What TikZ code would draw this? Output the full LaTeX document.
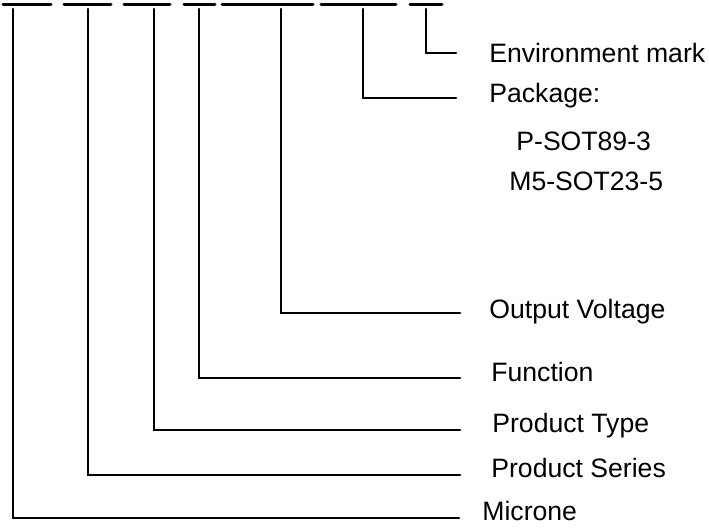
\documentclass[tikz,border=0pt]{standalone}
\usepackage{fontspec}
\setmainfont{Liberation Sans}
\usetikzlibrary{positioning}

\tikzset{
  digit/.style={line width=1.5pt, line cap=round},
  lead/.style={line width=1.3pt, line cap=round, line join=miter},
  lbl/.style={anchor=base west, inner sep=0pt, font=\fontsize{13.3}{15}\selectfont}
}

\begin{document}
\begin{tikzpicture}[x=0.5pt, y=-0.5pt]
  \useasboundingbox (0,0) rectangle (709,527);

  % placeholders of the part number
  \foreach \l/\r in {3/51, 64/111, 124/170, 184/215, 222/313, 321/396, 410/442}
    \draw[digit] (\l,4) -- (\r,4);

  % start and end points of the leads
  \foreach \n/\x/\y/\e in {mic/13/518/459, ser/88/475/460, typ/154/430/460,
                           fun/199/378/460, out/281/313/460, pkg/363/98/456,
                           env/426/53/456} {
    \coordinate (top-\n) at (\x,9);
    \coordinate (end-\n) at (\e,\y);
  }

  % labels
  \node[lbl] (env) at (489,62) {Environment mark};
  \node[lbl] (pkg) at (489,102) {Package:};
  \node[lbl] (sot89) at (516,150) {P-SOT89-3};
  \node[lbl] (sot23) at (509,190) {M5-SOT23-5};
  \node[lbl] (out) at (489,318) {Output Voltage};
  \node[lbl] (fun) at (491,381) {Function};
  \node[lbl] (typ) at (492,432) {Product Type};
  \node[lbl] (ser) at (491,477) {Product Series};
  \node[lbl] (mic) at (482,520) {Microne};

  % leads
  \foreach \n in {mic, ser, typ, fun, out, pkg, env}
    \draw[lead] (top-\n) |- (end-\n);
\end{tikzpicture}
\end{document}
